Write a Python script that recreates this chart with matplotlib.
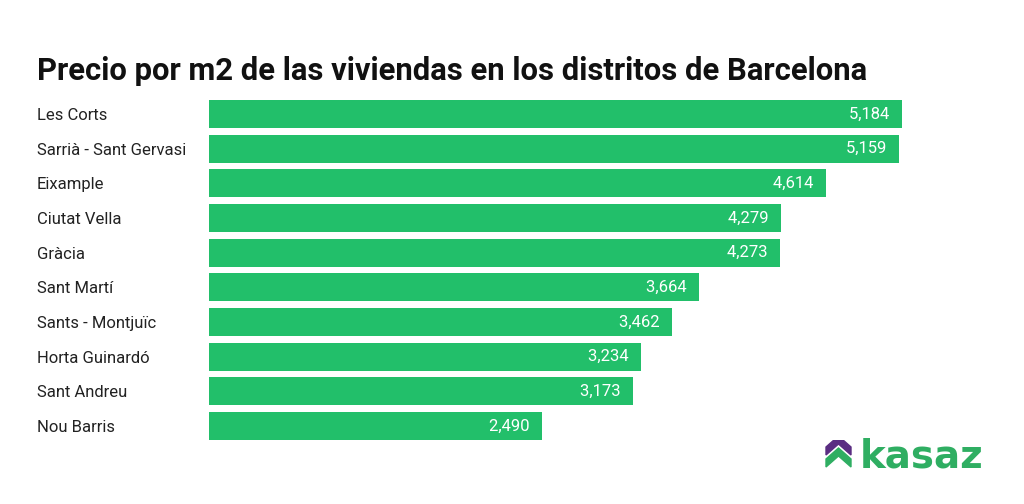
import matplotlib
matplotlib.use("Agg")
import matplotlib.pyplot as plt
from matplotlib.patches import Polygon

plt.rcParams['font.family'] = ['Roboto', 'DejaVu Sans']

# Data
distritos = ['Les Corts', 'Sarrià - Sant Gervasi', 'Eixample', 'Ciutat Vella',
             'Gràcia', 'Sant Martí', 'Sants - Montjuïc', 'Horta Guinardó',
             'Sant Andreu', 'Nou Barris']
precios = [5184, 5159, 4614, 4279, 4273, 3664, 3462, 3234, 3173, 2490]

bar_color = '#22bf6a'
W, H = 1024, 504

fig = plt.figure(figsize=(W / 100, H / 100), dpi=100)
fig.patch.set_facecolor('white')

# axes placed in pixels: x 209..902, y 100..440
ax = fig.add_axes([209 / W, 1 - 440 / H, (902 - 209) / W, 340 / H])

y = list(range(len(distritos)))
bh = 0.81
ax.barh(y, precios, height=bh, color=bar_color)
ax.set_xlim(0, max(precios))
ax.set_ylim(len(distritos) - 1 + bh / 2, -bh / 2)

# value labels inside the bars
for yi, v in zip(y, precios):
    ax.text(v, yi, f'{v:,}   ', ha='right', va='center', color='white',
            fontsize=12)

# category labels, left aligned at x=37px
ax.set_yticks(y)
ax.set_yticklabels(distritos, fontsize=12, color='#222222')
for lab in ax.get_yticklabels():
    lab.set_ha('left')
ax.tick_params(axis='y', length=0, pad=(209 - 37) * 72 / 100)
ax.set_xticks([])
for s in ax.spines.values():
    s.set_visible(False)

# title
fig.text(37 / W, 1 - 80 / H, 'Precio por m2 de las viviendas en los distritos de Barcelona',
         fontsize=22.3, fontweight='bold', color='#111111', ha='left', va='baseline')

# kasaz logo
lax = fig.add_axes([0, 0, 1, 1], zorder=-1)
lax.set_xlim(0, W)
lax.set_ylim(H, 0)
lax.axis('off')
purple = '#5a2d82'
green = '#2fae62'
# chevrons
lax.add_patch(Polygon([[826, 447], [838.5, 436], [851, 447], [851, 455], [838.5, 444], [826, 455]],
                      closed=True, color=purple))
lax.add_patch(Polygon([[826, 459], [838.5, 448], [851, 459], [851, 467], [838.5, 456], [826, 467]],
                      closed=True, color=green))
fig.text(860 / W, 1 - 467 / H, 'kasaz', fontsize=28, fontweight='bold',
         family='DejaVu Sans', color=green, ha='left', va='baseline')

fig.savefig('out.png', dpi=100, facecolor='white')
